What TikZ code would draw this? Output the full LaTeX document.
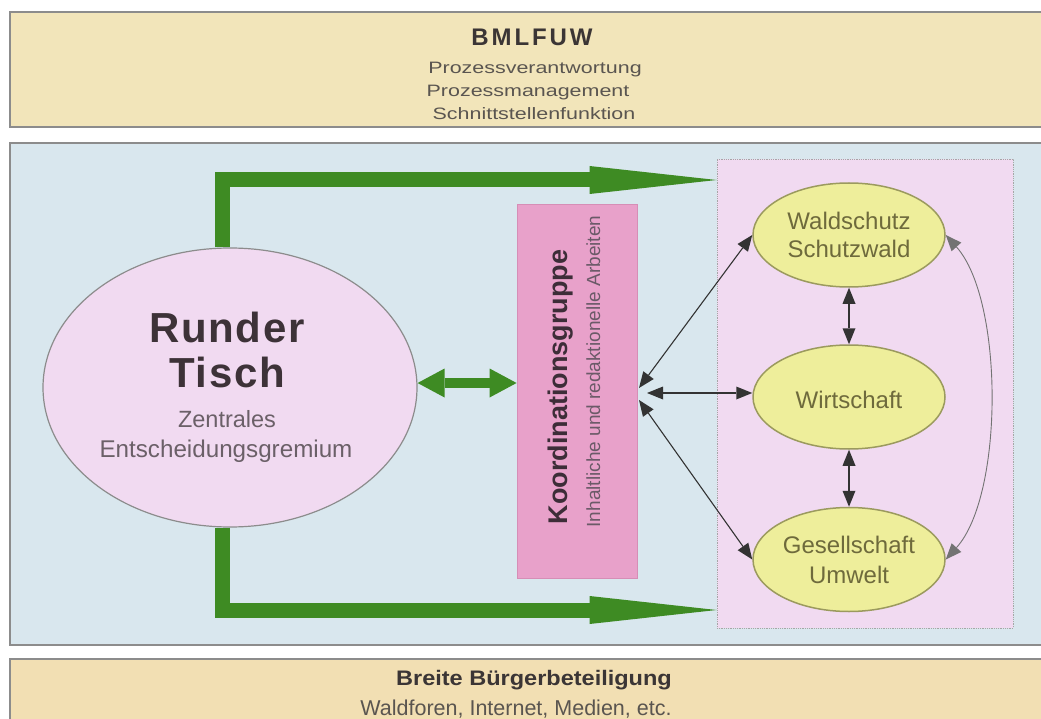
\documentclass[tikz,border=0pt]{standalone}
\usepackage{fontspec}
\setmainfont{Liberation Sans}
\newfontfamily\widefont[FakeStretch=1.3]{Liberation Sans}
\newfontfamily\spacedfont[LetterSpace=12]{Liberation Sans}
\newfontfamily\lightspaced[LetterSpace=4]{Liberation Sans}
\newfontfamily\semiwide[FakeStretch=1.12]{Liberation Sans}
\usetikzlibrary{arrows.meta,shapes.geometric}
\newcommand\fsz[2]{\fontsize{#1}{#2}\selectfont}
\definecolor{bannerA}{HTML}{F2E5BA}
\definecolor{bannerB}{HTML}{F2DFB3}
\definecolor{panelc}{HTML}{D9E7EE}
\definecolor{lilac}{HTML}{F1DAF1}
\definecolor{rose}{HTML}{E8A1CA}
\definecolor{roseline}{HTML}{D68EB6}
\definecolor{lemon}{HTML}{EEEE9B}
\definecolor{lemonline}{HTML}{9B9A5E}
\definecolor{leaf}{HTML}{3E8B23}
\definecolor{titlec}{HTML}{3B3535}
\definecolor{subc}{HTML}{5A5550}
\definecolor{rtc}{HTML}{3D3238}
\definecolor{rtsub}{HTML}{6B6068}
\definecolor{olivetext}{HTML}{6E6A3C}
\definecolor{kgc}{HTML}{3D2D38}
\definecolor{kgsub}{HTML}{6B5A68}
\definecolor{framec}{HTML}{8C8C8C}
\begin{document}
\begin{tikzpicture}[x=1pt,y=-1pt,
  box/.style={rectangle, inner sep=0pt},
  bigarrow/.style={draw=leaf, line width=15pt, line join=miter,
    -{Triangle[length=127pt,width=28pt,line width=0pt]}},
  medarrow/.style={draw=leaf, line width=10pt,
    {Triangle[length=27pt,width=29pt,line width=0pt]}-{Triangle[length=27pt,width=29pt,line width=0pt]}},
  lnk/.style={draw=black!80, line width=1.1pt,
    {Triangle[length=16pt,width=13pt,line width=0pt]}-{Triangle[length=16pt,width=13pt,line width=0pt]}},
  lnklight/.style={draw=black!55, line width=0.9pt,
    {Triangle[length=16pt,width=13pt,line width=0pt]}-{Triangle[length=16pt,width=13pt,line width=0pt]}},
  yell/.style={ellipse, draw=lemonline, line width=1.5pt, fill=lemon,
    minimum width=192pt, minimum height=104pt, inner sep=0pt},
  ytext/.style={anchor=base, text=olivetext, font=\fsz{24pt}{28pt}},
]
\useasboundingbox (0,0) rectangle (1041,719);
\fill[white] (0,0) rectangle (1041,719);

% banners and panel
\node[box, draw=framec, line width=1.8pt, fill=bannerA,
  minimum width=1036pt, minimum height=115pt] (top) at (528,69.5) {};
\node[box, draw=framec, line width=1.5pt, fill=panelc,
  minimum width=1036pt, minimum height=502pt] (panel) at (528,394) {};
\node[box, draw=framec, line width=1.8pt, fill=bannerB,
  minimum width=1036pt, minimum height=80pt] (bottom) at (528,699) {};

% top banner texts
\node[anchor=base, text=titlec, font=\spacedfont\bfseries\fsz{24pt}{28pt}] (t1) at (532,46) {BMLFUW};
\node[anchor=base, text=subc, font=\widefont\fsz{16.5pt}{20pt}] (t2) at (535,74) {Prozessverantwortung};
\node[anchor=base, text=subc, font=\widefont\fsz{16.5pt}{20pt}] (t3) at (528,97) {Prozessmanagement};
\node[anchor=base, text=subc, font=\widefont\fsz{16.5pt}{20pt}] (t4) at (534,120) {Schnittstellenfunktion};

% bottom banner texts
\node[anchor=base, text=titlec, font=\semiwide\bfseries\fsz{21pt}{24pt}] (b1) at (534,685) {Breite Bürgerbeteiligung};
\node[anchor=base, text=subc, font=\fsz{21.5pt}{24pt}] (b2) at (516,715) {Waldforen, Internet, Medien, etc.};

% container
\node[box, draw=black!35, line width=0.8pt, densely dotted, fill=lilac,
  minimum width=296pt, minimum height=469pt] (cont) at (865,393.5) {};

% Runder Tisch
\node[ellipse, draw=black!45, line width=1.2pt, fill=lilac,
  minimum width=374pt, minimum height=279pt, inner sep=0pt] (rt) at (230,387.5) {};
\node[anchor=base, text=rtc, font=\lightspaced\bfseries\fsz{42pt}{45pt}] (rt1) at (227,342) {Runder};
\node[anchor=base, text=rtc, font=\lightspaced\bfseries\fsz{42pt}{45pt}] (rt2) at (227,387) {Tisch};
\node[anchor=base, text=rtsub, font=\fsz{23.5pt}{28pt}] (rt3) at (227,427) {Zentrales};
\node[anchor=base, text=rtsub, font=\fsz{24.2pt}{28pt}] (rt4) at (226,457) {Entscheidungsgremium};

% Koordinationsgruppe
\node[box, draw=roseline, line width=0.8pt, fill=rose,
  minimum width=120pt, minimum height=374pt] (kg) at (577,391) {};
\node[rotate=90, anchor=base, text=kgc, font=\bfseries\fsz{27pt}{30pt}] (kg1) at (567,387) {Koordinationsgruppe};
\node[rotate=90, anchor=base, text=kgsub, font=\fsz{19pt}{22pt}] (kg2) at (600,371.5) {Inhaltliche und redaktionelle Arbeiten};

% yellow ellipses
\node[yell] (ws) at (849,235) {};
\node[yell] (wi) at (849,397) {};
\node[yell] (gs) at (849,559.5) {};
\node[ytext] (ws1) at (849,230) {Waldschutz};
\node[ytext] (ws2) at (849,258) {Schutzwald};
\node[ytext] (wi1) at (849,408) {Wirtschaft};
\node[ytext] (gs1) at (849,553) {Gesellschaft};
\node[ytext] (gs2) at (849,583) {Umwelt};

% green arrows
\coordinate (tl) at (222,180);
\coordinate (bl) at (222,610);
\coordinate (ga) at (0,383);
\draw[bigarrow] (rt.north -| tl) -- (tl) -- (cont.west |- tl);
\draw[bigarrow] (rt.south -| bl) -- (bl) -- (cont.west |- bl);
\draw[medarrow] (rt.east |- ga) -- (kg.west |- ga);

% thin arrows
\coordinate (k1) at (639,388);
\coordinate (k2) at (647,393);
\coordinate (k3) at (639,400);
\draw[lnk] (k1) -- (ws.west);
\draw[lnk] (k2) -- (wi.west |- k2);
\draw[lnk] (k3) -- (gs.west);
\draw[lnk] (ws.south) -- (wi.north);
\draw[lnk] (wi.south) -- (gs.north);
\coordinate (cc1) at (1004,300);
\coordinate (cc2) at (1004,495);
\draw[lnklight] (ws.east) .. controls (cc1) and (cc2) .. (gs.east);
\end{tikzpicture}
\end{document}
